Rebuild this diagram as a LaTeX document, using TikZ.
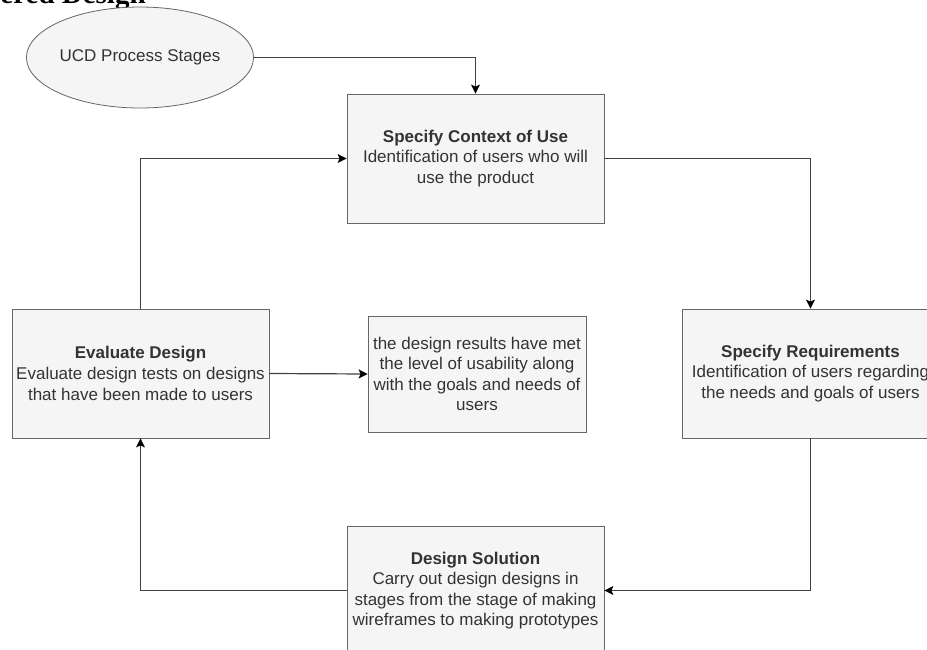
\documentclass[tikz,border=0pt]{standalone}
\usepackage{fontspec}
\setmainfont{Liberation Sans}
\newfontfamily\headfont{Liberation Serif}
\usetikzlibrary{shapes.geometric,arrows.meta}

\definecolor{boxfill}{HTML}{F5F5F5}
\definecolor{boxline}{HTML}{666666}
\definecolor{boxtext}{HTML}{333333}

\begin{document}
\begin{tikzpicture}[x=0.5pt, y=-0.5pt,
        >={Stealth[length=4.5pt, width=4.5pt, inset=1pt, black]},
        stage/.style={draw=boxline, fill=boxfill, text=boxtext, align=center, inner sep=0pt,
            minimum width=128.5pt, minimum height=64.5pt, font=\fontsize{8.5}{10.3}\selectfont},
        ucdshape/.style={ellipse, draw=boxline, fill=boxfill, text=boxtext, inner sep=0pt,
            minimum width=87.5pt, minimum height=50.5pt, font=\fontsize{8.5}{10.3}\selectfont},
        link/.style={draw=black!75, line width=0.6pt}]
        \useasboundingbox (0, 0) rectangle (927, 649);

        \node[anchor=base west, inner sep=0pt, font=\headfont\bfseries\fontsize{14.5}{16}\selectfont] (heading) at (0, 3) {ered Design};

        \node[ucdshape] (ucd) at (140, 57.5) {UCD Process Stages};

        \node[stage] (ctx) at (475.5, 158.5) {\textbf{Specify Context of Use}\\Identification of users who will\\use the product};
        \node[stage] (req) at (810.5, 373.5) {\textbf{Specify Requirements}\\Identification of users regarding\\the needs and goals of users};
        \node[stage] (sol) at (475.5, 590.5) {\textbf{Design Solution}\\Carry out design designs in\\stages from the stage of making\\wireframes to making prototypes};
        \node[stage] (eval) at (140.5, 373.5) {\textbf{Evaluate Design}\\Evaluate design tests on designs\\that have been made to users};
        \node[stage, minimum width=109pt, minimum height=58pt] (result) at (477, 374) {the design results have met\\the level of usability along\\with the goals and needs of\\users};

        \draw[link, ->] (ucd.east) -| (ctx.north);
        \draw[link, ->] (ctx.east) -| (req.north);
        \draw[link, ->] (req.south) |- (sol.east);
        \draw[link, ->] (sol.west) -| (eval.south);
        \draw[link, ->] (eval.north) |- (ctx.west);
        \draw[link, ->] (eval.east) -- (result.west);
    \end{tikzpicture}
\end{document}
